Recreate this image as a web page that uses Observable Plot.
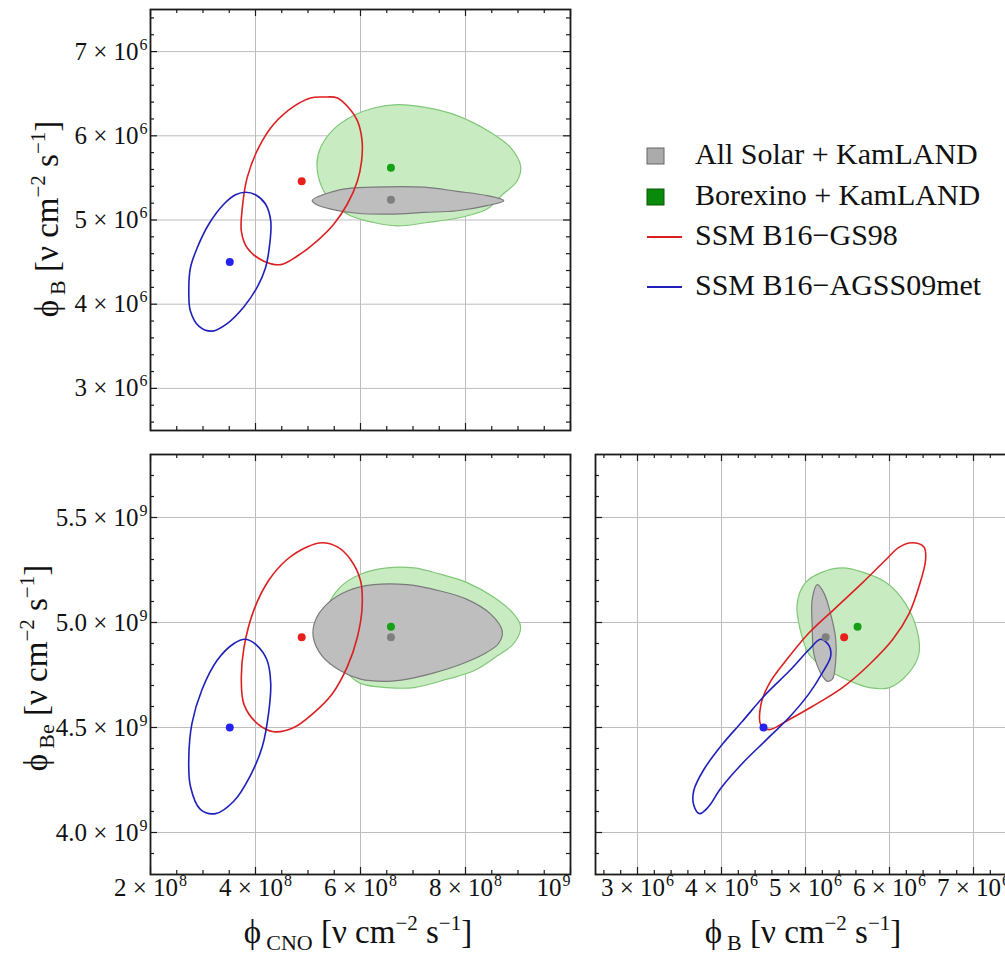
<!DOCTYPE html>
<html><head><meta charset="utf-8">
<script src="https://cdn.jsdelivr.net/npm/d3@7"></script>
<script src="https://cdn.jsdelivr.net/npm/@observablehq/plot@0.6"></script>
<style>
html,body{margin:0;padding:0;overflow:hidden;background:#fff;width:1005px;height:957px;}
#root{position:relative;width:1005px;height:957px;overflow:hidden;font-family:"Liberation Serif","DejaVu Serif",serif;}
</style></head><body><div id="root"></div>
<script>
// ---------- DATA (CNO in 1e8, B in 1e6, Be in 1e9  [ν cm^-2 s^-1]) ----------
const seriesNames = ["All Solar + KamLAND", "Borexino + KamLAND", "SSM B16\u2212GS98", "SSM B16\u2212AGSS09met"];
const bestCNO = [6.58, 6.58, 4.88, 3.51];
const bestB   = [5.24, 5.62, 5.46, 4.50];
const bestBe  = [4.93, 4.98, 4.93, 4.50];

// contours: phi_CNO vs phi_B
const grayCnoB  = [[5.08,5.23],[5.62,5.36],[6.25,5.39],[7.21,5.39],[7.84,5.34],[8.41,5.29],[8.73,5.23],[8.41,5.17],[7.84,5.11],[7.21,5.09],[6.57,5.07],[5.94,5.08],[5.43,5.13],[5.17,5.18]];
const greenCnoB = [[6.70,6.37],[7.21,6.34],[7.84,6.24],[8.48,6.04],[8.86,5.86],[9.05,5.64],[8.98,5.46],[8.70,5.30],[8.41,5.13],[7.90,5.03],[7.27,4.97],[6.70,4.93],[6.25,4.97],[5.81,5.05],[5.49,5.19],[5.27,5.38],[5.17,5.66],[5.24,5.86],[5.49,6.08],[5.87,6.24],[6.25,6.33]];
const redCnoB   = [[5.30,6.46],[5.56,6.45],[5.78,6.33],[5.94,6.18],[6.03,5.94],[6.02,5.70],[5.94,5.46],[5.75,5.19],[5.49,4.95],[5.17,4.75],[4.79,4.57],[4.48,4.47],[4.16,4.51],[3.84,4.67],[3.73,4.87],[3.75,5.15],[3.84,5.50],[4.06,5.86],[4.35,6.14],[4.73,6.35],[5.05,6.45]];
const blueCnoB  = [[3.81,5.33],[4.00,5.30],[4.19,5.19],[4.29,4.99],[4.27,4.71],[4.19,4.43],[4.03,4.20],[3.78,3.97],[3.46,3.77],[3.17,3.68],[2.92,3.74],[2.76,3.92],[2.73,4.12],[2.76,4.43],[2.89,4.67],[3.11,4.95],[3.40,5.19],[3.62,5.30]];

// contours: phi_CNO vs phi_Be
const grayCnoBe  = [[6.25,5.18],[6.89,5.18],[7.52,5.15],[8.03,5.11],[8.48,5.04],[8.70,4.96],[8.63,4.90],[8.35,4.85],[7.90,4.80],[7.40,4.76],[6.89,4.73],[6.51,4.72],[6.00,4.73],[5.62,4.77],[5.27,4.84],[5.10,4.93],[5.14,5.01],[5.37,5.09],[5.75,5.15]];
const greenCnoBe = [[6.51,5.26],[7.02,5.26],[7.52,5.23],[8.03,5.19],[8.54,5.12],[8.92,5.04],[9.05,4.98],[8.92,4.90],[8.60,4.84],[8.16,4.77],[7.65,4.73],[7.02,4.69],[6.51,4.69],[6.00,4.71],[5.75,4.76],[5.56,4.85],[5.37,4.98],[5.37,5.07],[5.62,5.17],[6.00,5.23]];
const redCnoBe   = [[5.27,5.38],[5.56,5.36],[5.81,5.30],[6.00,5.20],[6.03,5.07],[5.94,4.93],[5.75,4.79],[5.46,4.66],[5.11,4.57],[4.73,4.50],[4.35,4.48],[4.03,4.52],[3.78,4.61],[3.73,4.73],[3.78,4.88],[3.97,5.06],[4.25,5.20],[4.60,5.30],[4.98,5.36]];
const blueCnoBe  = [[3.81,4.92],[4.03,4.89],[4.22,4.82],[4.29,4.71],[4.25,4.57],[4.13,4.41],[3.90,4.27],[3.59,4.15],[3.24,4.09],[2.95,4.11],[2.76,4.22],[2.73,4.36],[2.79,4.52],[2.98,4.68],[3.27,4.82],[3.59,4.90]];

// contours: phi_B vs phi_Be
const grayBBe  = [[5.14,5.18],[5.22,5.14],[5.30,5.04],[5.36,4.92],[5.36,4.82],[5.32,4.73],[5.26,4.72],[5.18,4.76],[5.10,4.85],[5.08,4.98],[5.08,5.11]];
const greenBBe = [[5.44,5.26],[5.68,5.24],[5.96,5.19],[6.19,5.09],[6.33,4.96],[6.35,4.85],[6.23,4.76],[6.00,4.69],[5.76,4.69],[5.48,4.73],[5.20,4.79],[5.04,4.85],[4.94,4.96],[4.90,5.09],[5.00,5.19],[5.20,5.24]];
const redBBe   = [[6.27,5.38],[6.41,5.36],[6.43,5.30],[6.35,5.17],[6.23,5.04],[6.04,4.92],[5.76,4.80],[5.44,4.69],[5.08,4.60],[4.77,4.53],[4.57,4.49],[4.47,4.51],[4.47,4.61],[4.57,4.71],[4.77,4.82],[5.04,4.95],[5.36,5.07],[5.68,5.19],[5.96,5.30],[6.12,5.36]];
const blueBBe  = [[5.18,4.92],[5.28,4.89],[5.30,4.84],[5.20,4.76],[5.04,4.66],[4.81,4.55],[4.53,4.44],[4.25,4.33],[3.99,4.21],[3.84,4.12],[3.74,4.09],[3.67,4.13],[3.67,4.20],[3.79,4.30],[4.01,4.42],[4.25,4.53],[4.53,4.66],[4.81,4.77],[5.04,4.87]];

// axes
const cnoDomain = [2, 10], bDomain = [2.5, 7.5], beDomain = [3.8, 5.8];
const cnoTicks = [2, 4, 6, 8, 10];
const cnoTickLabels = ["2 \u00d7 10\u2078", "4 \u00d7 10\u2078", "6 \u00d7 10\u2078", "8 \u00d7 10\u2078", "10\u2079"];
const cnoMinor = [2.5,3,3.5,4.5,5,5.5,6.5,7,7.5,8.5,9,9.5];
const bTicks = [3, 4, 5, 6, 7];
const bTickLabels = ["3 \u00d7 10\u2076", "4 \u00d7 10\u2076", "5 \u00d7 10\u2076", "6 \u00d7 10\u2076", "7 \u00d7 10\u2076"];
const bMinor = [2.6,2.8,3.2,3.4,3.6,3.8,4.2,4.4,4.6,4.8,5.2,5.4,5.6,5.8,6.2,6.4,6.6,6.8,7.2,7.4];
const beTicks = [4.0, 4.5, 5.0, 5.5];
const beTickLabels = ["4.0 \u00d7 10\u2079", "4.5 \u00d7 10\u2079", "5.0 \u00d7 10\u2079", "5.5 \u00d7 10\u2079"];
const beMinor = [3.9,4.1,4.2,4.3,4.4,4.6,4.7,4.8,4.9,5.1,5.2,5.3,5.4,5.6,5.7];

// ---------- STYLE ----------
const colGrayFill = "#bebebe", colGrayStroke = "#7a7a7a";
const colGreenFill = "#c8ebc2", colGreenStroke = "#80c878";
const colRed = "#dc1f1f", colBlue = "#1f1fbb";
const dotColors = ["#7f7f7f", "#15a015", "#e8201c", "#2424ee"];
const legendSwatch = ["#ababab", "#0a8a0a"];
const fontFam = "Liberation Serif, DejaVu Serif, serif";
const tickFont = 25, supFont = 16;

const root = document.getElementById("root");
function place(node, left, top) {
  const d = document.createElement("div");
  d.style.position = "absolute"; d.style.left = left + "px"; d.style.top = top + "px";
  d.appendChild(node); root.appendChild(d);
}
const fmtMap = (ticks, labels) => { const m = new Map(ticks.map((t, i) => [t, labels[i]])); return d => m.get(d); };
const supDigits = "\u2070\u00b9\u00b2\u00b3\u2074\u2075\u2076\u2077\u2078\u2079";
// render the trailing unicode exponent of each tick label as a raised tspan
function raiseExponents(svg) {
  d3.select(svg).selectAll("g[aria-label$='tick label'] text").each(function () {
    const s = this.textContent;
    let k = s.length;
    while (k > 0 && supDigits.includes(s[k - 1])) k--;
    if (k === s.length) return;
    const base = s.slice(0, k), exp = [...s.slice(k)].map(c => supDigits.indexOf(c)).join("");
    const t = d3.select(this);
    t.text(null);
    t.append("tspan").text(base);
    t.append("tspan").attr("font-size", supFont).attr("dx", 1).attr("dy", -10).text(exp);
  });
}

function panel(o) {
  const iw = o.width - o.mL - o.mR, ih = o.height - o.mT - o.mB;
  const best = o.bestX.map((v, i) => ({x: v, y: o.bestY[i], c: dotColors[i]}));
  const tickStyle = {stroke: "#1a1a1a", strokeWidth: 1.2};
  const marks = [
    Plot.gridX(o.xTicks, {stroke: "#bdbdbd", strokeOpacity: 1, strokeWidth: 1}),
    Plot.gridY(o.yTicks, {stroke: "#bdbdbd", strokeOpacity: 1, strokeWidth: 1}),
    Plot.line(o.green, {x: d => d[0], y: d => d[1], curve: "catmull-rom-closed", fill: colGreenFill, stroke: colGreenStroke, strokeWidth: 1.2}),
    Plot.line(o.gray, {x: d => d[0], y: d => d[1], curve: "catmull-rom-closed", fill: colGrayFill, stroke: colGrayStroke, strokeWidth: 1.2}),
    Plot.line(o.red, {x: d => d[0], y: d => d[1], curve: "catmull-rom-closed", stroke: colRed, strokeWidth: 1.6}),
    Plot.line(o.blue, {x: d => d[0], y: d => d[1], curve: "catmull-rom-closed", stroke: colBlue, strokeWidth: 1.6}),
    Plot.dot(best, {x: "x", y: "y", fill: "c", r: 4}),
    Plot.tickX(o.xTicks, {x: d => d, insetTop: ih - 7, ...tickStyle}),
    Plot.tickX(o.xTicks, {x: d => d, insetBottom: ih - 7, ...tickStyle}),
    Plot.tickX(o.xMinor, {x: d => d, insetTop: ih - 4, ...tickStyle}),
    Plot.tickX(o.xMinor, {x: d => d, insetBottom: ih - 4, ...tickStyle}),
    Plot.tickY(o.yTicks, {y: d => d, insetRight: iw - 7, ...tickStyle}),
    Plot.tickY(o.yTicks, {y: d => d, insetLeft: iw - 7, ...tickStyle}),
    Plot.tickY(o.yMinor, {y: d => d, insetRight: iw - 4, ...tickStyle}),
    Plot.tickY(o.yMinor, {y: d => d, insetLeft: iw - 4, ...tickStyle}),
    Plot.frame({stroke: "#1a1a1a", strokeWidth: 1.8})
  ];
  if (o.yLabels) {
    marks.push(Plot.axisY(o.yTicks, {anchor: "left", tickSize: 0, tickPadding: 3, tickFormat: fmtMap(o.yTicks, o.yLabels), fontSize: tickFont, label: null}));
  }
  if (o.xLabels) {
    const n = o.xLabelsEnd ? o.xTicks.length - 1 : o.xTicks.length;
    marks.push(Plot.axisX(o.xTicks.slice(0, n), {anchor: "bottom", tickSize: 0, tickPadding: 4, tickFormat: fmtMap(o.xTicks, o.xLabels), fontSize: tickFont, label: null}));
    if (o.xLabelsEnd) {
      marks.push(Plot.axisX(o.xTicks.slice(n), {anchor: "bottom", tickSize: 0, tickPadding: 4, tickFormat: fmtMap(o.xTicks, o.xLabels), fontSize: tickFont, label: null, textAnchor: "end", dx: 0}));
    }
  }
  const svg = Plot.plot({
    width: o.width, height: o.height,
    marginLeft: o.mL, marginRight: o.mR, marginTop: o.mT, marginBottom: o.mB,
    x: {domain: o.xDomain, axis: null},
    y: {domain: o.yDomain, axis: null},
    color: {type: "identity"},
    style: {fontFamily: fontFam, fontSize: tickFont + "px", color: "#111", background: "transparent", overflow: "visible", maxWidth: "none"},
    marks
  });
  raiseExponents(svg);
  place(svg, o.left, o.top);
}

panel({left: 0, top: 0, width: 580, height: 440, mL: 150, mR: 10, mT: 9, mB: 10,
  xDomain: cnoDomain, yDomain: bDomain, xTicks: cnoTicks, xMinor: cnoMinor, yTicks: bTicks, yMinor: bMinor,
  yLabels: bTickLabels, bestX: bestCNO, bestY: bestB,
  green: greenCnoB, gray: grayCnoB, red: redCnoB, blue: blueCnoB});
panel({left: 0, top: 440, width: 580, height: 517, mL: 150, mR: 10, mT: 14, mB: 83,
  xDomain: cnoDomain, yDomain: beDomain, xTicks: cnoTicks, xMinor: cnoMinor, yTicks: beTicks, yMinor: beMinor,
  yLabels: beTickLabels, xLabels: cnoTickLabels, xLabelsEnd: true, bestX: bestCNO, bestY: bestBe,
  green: greenCnoBe, gray: grayCnoBe, red: redCnoBe, blue: blueCnoBe});
panel({left: 580, top: 440, width: 440, height: 517, mL: 15, mR: 5, mT: 14, mB: 83,
  xDomain: bDomain, yDomain: beDomain, xTicks: bTicks, xMinor: bMinor, yTicks: beTicks, yMinor: beMinor,
  xLabels: bTickLabels, bestX: bestB, bestY: bestBe,
  green: greenBBe, gray: grayBBe, red: redBBe, blue: blueBBe});

// ---------- overlay: axis titles + legend ----------
const ov = d3.create("svg").attr("width", 1005).attr("height", 957)
  .style("position", "absolute").style("left", "0px").style("top", "0px").style("pointer-events", "none");
function title(x, y, rot, sub) {
  const t = ov.append("text").attr("transform", `translate(${x},${y})` + (rot ? " rotate(-90)" : ""))
    .attr("text-anchor", "middle").attr("font-family", fontFam).attr("font-size", 33).attr("fill", "#111");
  t.append("tspan").text("\u03d5");
  t.append("tspan").attr("font-size", 22).attr("dx", 5).attr("dy", 7).text(sub);
  t.append("tspan").attr("dy", -7).text(" [\u03bd cm");
  t.append("tspan").attr("font-size", 21).attr("dy", -13).text("\u22122");
  t.append("tspan").attr("dy", 13).text(" s");
  t.append("tspan").attr("font-size", 21).attr("dy", -13).text("\u22121");
  t.append("tspan").attr("dy", 13).text("]");
}
title(58, 219, true, "B");
title(47, 668, true, "Be");
title(358, 943, false, "CNO");
title(803, 943, false, "B");

const lg = ov.append("g").attr("font-family", fontFam).attr("font-size", 30).attr("fill", "#111");
const rowY = [156, 197, 237, 287];
lg.append("rect").attr("x", 647).attr("y", rowY[0] - 8).attr("width", 17).attr("height", 16).attr("fill", legendSwatch[0]).attr("stroke", "#666");
lg.append("rect").attr("x", 647).attr("y", rowY[1] - 8).attr("width", 17).attr("height", 16).attr("fill", legendSwatch[1]).attr("stroke", "#045a04");
lg.append("line").attr("x1", 647).attr("x2", 682).attr("y1", rowY[2]).attr("y2", rowY[2]).attr("stroke", colRed).attr("stroke-width", 1.8);
lg.append("line").attr("x1", 647).attr("x2", 682).attr("y1", rowY[3]).attr("y2", rowY[3]).attr("stroke", colBlue).attr("stroke-width", 1.8);
seriesNames.forEach((s, i) => {
  lg.append("text").attr("x", 695).attr("y", rowY[i] + 8).text(s);
});
root.appendChild(ov.node());
</script></body></html>
